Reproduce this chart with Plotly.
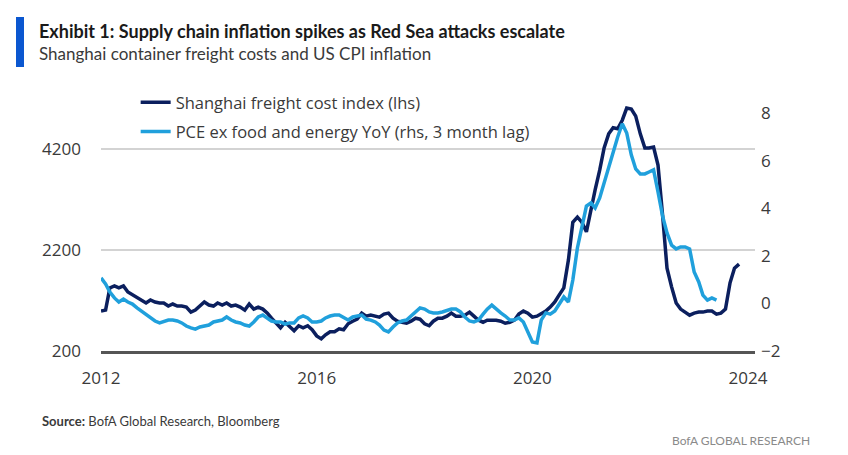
import plotly.graph_objects as go
import pandas as pd

# Shanghai freight cost index (lhs), monthly from Jan 2012
freight = [990,1010,1450,1490,1450,1490,1370,1310,1270,1210,
           1150,1210,1170,1150,1150,1090,1130,1090,1090,1070,
           970,1010,1090,1170,1110,1090,1150,1110,1150,1090,
           1110,1070,1010,1130,1030,1070,1030,950,850,740,
           660,770,680,600,700,660,700,620,500,440,
           520,580,580,640,620,740,790,830,950,890,
           910,890,870,930,950,850,790,770,750,790,
           850,830,740,700,790,850,850,890,950,890,
           890,910,970,890,810,770,810,810,810,790,
           750,770,810,930,990,950,870,890,930,990,
           1070,1170,1310,1450,2000,2750,2850,2750,2560,3030,
           3390,3780,4220,4500,4620,4600,4770,5010,4990,4850,
           4500,4220,4220,4240,3880,2890,1840,1470,1150,1030,
           970,910,950,970,970,990,990,930,950,1030,
           1550,1840,1920]

# PCE ex food and energy YoY (rhs, 3 month lag), monthly from Jan 2012
pce = [1.07,0.82,0.48,0.23,0.06,0.18,0.06,-0.03,-0.19,-0.32,
       -0.49,-0.61,-0.74,-0.82,-0.78,-0.70,-0.70,-0.74,-0.82,-0.95,
       -1.03,-1.08,-0.99,-0.95,-0.91,-0.78,-0.74,-0.70,-0.57,-0.70,
       -0.78,-0.82,-0.91,-0.95,-0.78,-0.57,-0.49,-0.61,-0.74,-0.78,
       -0.78,-0.87,-0.82,-0.82,-0.61,-0.53,-0.61,-0.78,-0.78,-0.74,
       -0.61,-0.53,-0.49,-0.49,-0.61,-0.70,-0.57,-0.53,-0.49,-0.66,
       -0.70,-0.78,-0.91,-1.12,-1.20,-0.99,-0.82,-0.74,-0.70,-0.53,
       -0.36,-0.19,-0.24,-0.36,-0.40,-0.40,-0.36,-0.28,-0.24,-0.24,
       -0.36,-0.57,-0.74,-0.78,-0.70,-0.45,-0.24,-0.07,-0.24,-0.40,
       -0.53,-0.70,-0.70,-0.61,-0.78,-1.20,-1.62,-1.66,-0.70,-0.40,
       -0.45,-0.32,-0.03,0.27,0.06,0.98,2.33,3.25,4.09,4.22,
       4.01,4.43,5.06,5.77,6.45,6.99,7.55,7.16,6.24,5.65,
       5.44,5.44,5.52,5.61,4.68,3.67,2.96,2.45,2.29,2.37,
       2.37,2.29,1.32,0.90,0.35,0.14,0.23,0.14]

freight_dates = pd.date_range("2012-01-01", periods=len(freight), freq="MS")
pce_dates = pd.date_range("2012-01-01", periods=len(pce), freq="MS")

x_tick_vals = ["2012-01-01", "2016-01-01", "2020-01-01", "2024-01-01"]
x_tick_text = ["2012", "2016", "2020", "2024"]
left_ticks = [200, 2200, 4200]
right_ticks = [-2, 0, 2, 4, 6, 8]

DARK = "#0b1f5e"
LIGHT = "#20a0dc"
FONT = "Open Sans"

fig = go.Figure()
fig.add_trace(go.Scatter(x=freight_dates, y=freight, name="Shanghai freight cost index (lhs)",
                         mode="lines", line=dict(color=DARK, width=3.5), yaxis="y",
                         legendgroup="a"))
fig.add_trace(go.Scatter(x=pce_dates, y=pce, name="PCE ex food and energy YoY (rhs, 3 month lag)",
                         mode="lines", line=dict(color=LIGHT, width=3.5), yaxis="y2",
                         legendgroup="b"))

fig.update_layout(
    width=848, height=455,
    margin=dict(l=101, r=93, t=100, b=104),
    paper_bgcolor="white", plot_bgcolor="white",
    font=dict(family=FONT, color="#3a3a3a", size=16),
    showlegend=True,
    legend=dict(x=0.053, y=1.06, xanchor="left", yanchor="top",
                bgcolor="rgba(0,0,0,0)", font=dict(size=16.5, color="#3a3a3a"),
                tracegroupgap=5, traceorder="grouped"),
    xaxis=dict(type="date", range=["2012-01-01", "2024-02-17"],
               tickvals=x_tick_vals, ticktext=x_tick_text,
               showgrid=False, zeroline=False,
               showline=True, linecolor="#555555", linewidth=3,
               ticks="", ticklabelstandoff=10,
               tickfont=dict(size=17, color="#3a3a3a")),
    yaxis=dict(range=[200, 5170], tickvals=left_ticks,
               showgrid=True, gridcolor="#d3d3d3", gridwidth=1.5,
               zeroline=False, showline=False, ticks="",
               ticklabelstandoff=19,
               tickfont=dict(size=17, color="#3a3a3a")),
    yaxis2=dict(range=[-2, 8.546], tickvals=right_ticks, overlaying="y", side="right",
                showgrid=False, zeroline=False, showline=False, ticks="",
                ticklabelstandoff=5,
                tickfont=dict(size=17, color="#3a3a3a")),
)

# blue accent bar by title
fig.add_shape(type="rect", xref="paper", yref="paper",
              x0=-0.130, x1=-0.1177, y0=1.1315, y1=1.3307,
              fillcolor="#0b57d0", line=dict(width=0), layer="above")

fig.add_annotation(xref="paper", yref="paper", x=-0.0979, y=1.2749,
                   xanchor="left", yanchor="middle", showarrow=False,
                   text="<b>Exhibit 1: Supply chain inflation spikes as Red Sea attacks escalate</b>",
                   font=dict(family="Lato", size=18, color="#1a1a1a"))
fig.add_annotation(xref="paper", yref="paper", x=-0.0979, y=1.1833,
                   xanchor="left", yanchor="middle", showarrow=False,
                   text="Shanghai container freight costs and US CPI inflation",
                   font=dict(family="Lato", size=17, color="#3a3a3a"))
fig.add_annotation(xref="paper", yref="paper", x=-0.0933, y=-0.2789,
                   xanchor="left", yanchor="middle", showarrow=False,
                   text="<b>Source:</b> BofA Global Research, Bloomberg",
                   font=dict(family="Lato", size=13, color="#3a3a3a"))
fig.add_annotation(xref="paper", yref="paper", x=1.0872, y=-0.3546,
                   xanchor="right", yanchor="middle", showarrow=False,
                   text="BofA GLOBAL RESEARCH",
                   font=dict(family="Lato", size=12, color="#8a8a8a"))

fig.write_html("out.html")
